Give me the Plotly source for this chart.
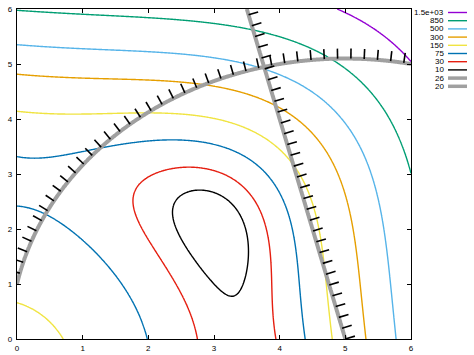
import numpy as np
import plotly.graph_objects as go

# ---- data ----
levels = [1500, 850, 500, 300, 150, 75, 30, 10]
level_labels = ["1.5e+03", "850", "500", "300", "150", "75", "30", "10"]
level_colors = ["#9400d3", "#009e73", "#56b4e9", "#e69f00", "#f0e442", "#0072b2", "#e51e10", "#000000"]
constraint_levels = [26, 20]
constraint_labels = ["26", "20"]
constraint_color = "#a0a0a0"
tick_vals = [0, 1, 2, 3, 4, 5, 6]

# plot geometry (pixels) used for hatch orientation
W, H = 474, 355
ML, MR, MT, MB = 17, 63, 9, 16
PW, PH = W - ML - MR, H - MT - MB
KX, KY = PW / 6.0, PH / 6.0

xs = np.linspace(0, 6, 361)
ys = np.linspace(0, 6, 361)
X, Y = np.meshgrid(xs, ys)
F = (X**2 + Y - 11) ** 2 + (X + Y**2 - 7) ** 2   # objective
G1 = (X - 5) ** 2 + Y**2                          # constraint 1
G2 = 4 * X + Y                                    # constraint 2

fig = go.Figure()

def contour(z, lev, color, width):
    return go.Contour(
        x=xs, y=ys, z=z, autocontour=False,
        contours=dict(start=lev, end=lev, size=1, coloring="lines", showlabels=False),
        colorscale=[[0, color], [1, color]], showscale=False,
        line=dict(width=width, smoothing=1), hoverinfo="skip", showlegend=False,
    )

for lev, col in zip(levels, level_colors):
    fig.add_trace(contour(F, lev, col, 1.4))

# ---- hatches on infeasible side ----
step = 0.2025
hl = 10.0  # px
hx, hy = [], []
# circle (x-5)^2 + y^2 = 26
r = np.sqrt(constraint_levels[0])
t0 = np.pi - np.arctan2(1, 5)
t1 = np.arctan2(np.sqrt(r**2 - 1), 1)
n = int((t0 - t1) * r / step) + 1
for i in range(n):
    t = t0 - i * step / r
    px, py = 5 + r * np.cos(t), r * np.sin(t)
    nx, ny = np.cos(t) * KY, np.sin(t) * KX
    L = np.hypot(nx, ny)
    hx += [px, px + nx / L * hl / KX, None]
    hy += [py, py + ny / L * hl / KY, None]
# line 4x + y = 20
c = constraint_levels[1]
pa = np.array([c / 4, 0.0]); pb = np.array([(c - 6) / 4, 6.0])
length = np.hypot(*(pb - pa))
d = (pb - pa) / length
n = int(length / step) + 1
for i in range(n):
    p = pa + d * i * step
    tx, ty = d[0] * KX, d[1] * KY
    nx, ny = ty, -tx
    if nx < 0:
        nx, ny = -nx, -ny
    L = np.hypot(nx, ny)
    hx += [p[0], p[0] + nx / L * hl / KX, None]
    hy += [p[1], p[1] + ny / L * hl / KY, None]

fig.add_trace(go.Scatter(x=hx, y=hy, mode="lines", line=dict(color="black", width=1.6),
                         hoverinfo="skip", showlegend=False, cliponaxis=False))

fig.add_trace(contour(G1, constraint_levels[0], constraint_color, 4))
fig.add_trace(contour(G2, constraint_levels[1], constraint_color, 4))

# ---- custom gnuplot-style key ----
font = dict(family="Liberation Sans", size=8, color="black")
all_labels = level_labels + constraint_labels
all_colors = level_colors + [constraint_color] * 2
all_widths = [1.4] * len(levels) + [3.5] * 2
for i, (lab, col, w) in enumerate(zip(all_labels, all_colors, all_widths)):
    py = 12.5 + i * 8.2
    yp = (H - MB - py) / PH
    fig.add_annotation(x=(445 - ML) / PW, y=yp, xref="paper", yref="paper", text=lab,
                       showarrow=False, xanchor="right", yanchor="middle", font=font,
                       borderpad=0)
    fig.add_shape(type="line", xref="paper", yref="paper",
                  x0=(448 - ML) / PW, x1=(467 - ML) / PW, y0=yp, y1=yp,
                  line=dict(color=col, width=w))

axis = dict(range=[0, 6], tickvals=tick_vals, ticks="inside", ticklen=4, tickwidth=1,
            tickcolor="black", showline=True, linecolor="black", linewidth=1.2,
            mirror="ticks", showgrid=False, zeroline=False, tickfont=font,
            automargin=False)
fig.update_layout(
    width=W, height=H, margin=dict(l=ML, r=MR, t=MT, b=MB, autoexpand=False),
    paper_bgcolor="white", plot_bgcolor="white",
    xaxis=dict(axis, ticklabelstandoff=1), yaxis=dict(axis, ticklabelstandoff=2),
    showlegend=False,
)
fig.write_html("out.html", config={"displayModeBar": False},
               post_script="document.body.style.margin='0';document.body.style.overflow='hidden';")
